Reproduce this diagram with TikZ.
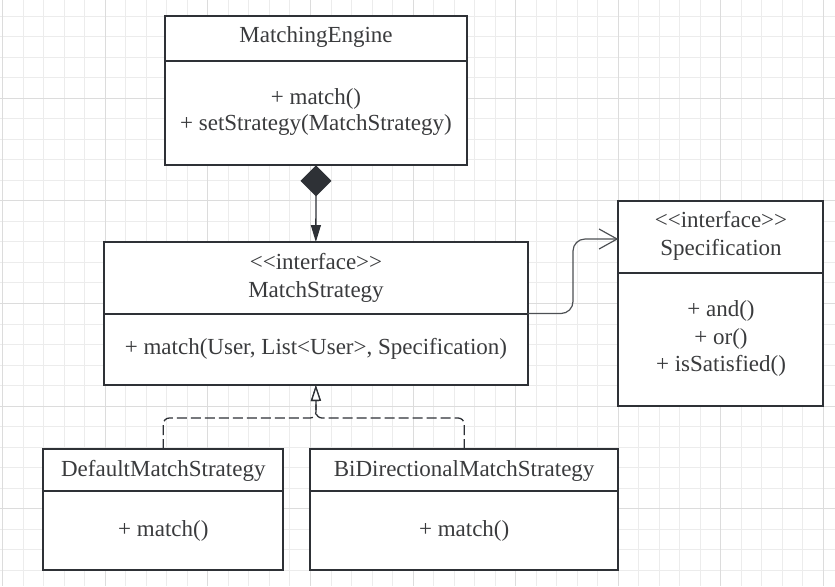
\documentclass[tikz,border=0pt]{standalone}
\usepackage{fontspec}
\setmainfont{Liberation Serif}
\usepackage{tikz}
\usetikzlibrary{arrows.meta}
\usepackage{xcolor}
\definecolor{linec}{HTML}{2E3136}
\definecolor{txtc}{HTML}{3A3B3D}
\definecolor{gridminor}{HTML}{ECECEC}
\definecolor{gridmajor}{HTML}{DCDCDC}

\begin{document}
\begin{tikzpicture}[x=0.5pt,y=-0.5pt,
  umlbox/.style={draw=linec,fill=white,line width=1pt,inner sep=0pt,outer sep=0pt},
  umlline/.style={draw=linec,line width=1pt},
  txt/.style={anchor=base,text=txtc,inner sep=0pt,font=\fontsize{11.5}{13.6}\selectfont},
  compo/.style={draw=linec,line width=0.65pt,{Diamond[length=15.5pt,width=15.5pt,fill=linec]}-{Triangle[length=8.5pt,width=5pt,fill=linec]}},
  assoc/.style={draw=linec!85,line width=0.6pt,rounded corners=6pt,-{Straight Barb[length=9pt,width=10pt]}},
  realize/.style={draw=linec,line width=0.65pt,dash pattern=on 5pt off 2pt,rounded corners=3pt,-{Triangle[open,length=8pt,width=5pt,fill=white]}}]
\fill[white] (0,0) rectangle (835,586);
\useasboundingbox (0,0) rectangle (835,586);
\foreach \i in {0,...,40} \draw[gridminor,line width=0.5pt] (2.7+20.52*\i,0) -- (2.7+20.52*\i,586);
\foreach \i in {1,...,29} \draw[gridminor,line width=0.5pt] (0,-4.3+20.52*\i) -- (835,-4.3+20.52*\i);
\foreach \i in {0,...,8} \draw[gridmajor,line width=0.5pt] (2.7+102.6*\i,0) -- (2.7+102.6*\i,586);
\foreach \i in {1,...,5} \draw[gridmajor,line width=0.5pt] (0,-4.3+102.6*\i) -- (835,-4.3+102.6*\i);

\node[umlbox,minimum width=151.3pt,minimum height=74.65pt] (engine) at (316,90.65) {};
\node[umlbox,minimum width=211.85pt,minimum height=71.5pt] (strategy) at (315.85,313.5) {};
\node[umlbox,minimum width=102.5pt,minimum height=102.5pt] (spec) at (720.8,303.5) {};
\node[umlbox,minimum width=120pt,minimum height=60.5pt] (default) at (163.3,509.5) {};
\node[umlbox,minimum width=154.15pt,minimum height=60.5pt] (bidir) at (464.15,509.5) {};
\draw[umlline] (engine.west |- 0,61) -- (engine.east |- 0,61);
\draw[umlline] (strategy.west |- 0,313.7) -- (strategy.east |- 0,313.7);
\draw[umlline] (spec.west |- 0,272.7) -- (spec.east |- 0,272.7);
\draw[umlline] (default.west |- 0,491) -- (default.east |- 0,491);
\draw[umlline] (bidir.west |- 0,491) -- (bidir.east |- 0,491);

\node[txt] (engname) at (316,42.7) {MatchingEngine};
\node[txt] (engm1) at (316,104) {+ match()};
\node[txt] (engm2) at (316,130.7) {+ setStrategy(MatchStrategy)};
\node[txt] (stratst) at (316,269.3) {<\kern0pt<interface>\kern0pt>};
\node[txt] (stratname) at (316,297) {MatchStrategy};
\node[txt] (stratm) at (316,354.3) {+ match(User, List<User>, Specification)};
\node[txt] (specst) at (721,227.3) {<\kern0pt<interface>\kern0pt>};
\node[txt] (specname) at (721,255) {Specification};
\node[txt] (specm1) at (721,316.7) {+ and()};
\node[txt] (specm2) at (721,344.5) {+ or()};
\node[txt] (specm3) at (721,371.7) {+ isSatisfied()};
\node[txt] (defname) at (163.3,476) {DefaultMatchStrategy};
\node[txt] (defm) at (163.3,536.7) {+ match()};
\node[txt] (biname) at (464.15,476) {BiDirectionalMatchStrategy};
\node[txt] (bim) at (464.15,536.7) {+ match()};

\draw[compo] (engine.south) -- (strategy.north);
\draw[assoc] (strategy.east) -- ++(45.3,0) |- ([yshift=-19pt]spec.north west);
\coordinate (fork) at (316,418);
\draw[realize] (default.north) |- (fork) -- (strategy.south);
\draw[realize] (bidir.north) |- (fork) -- (strategy.south);
\end{tikzpicture}
\end{document}
